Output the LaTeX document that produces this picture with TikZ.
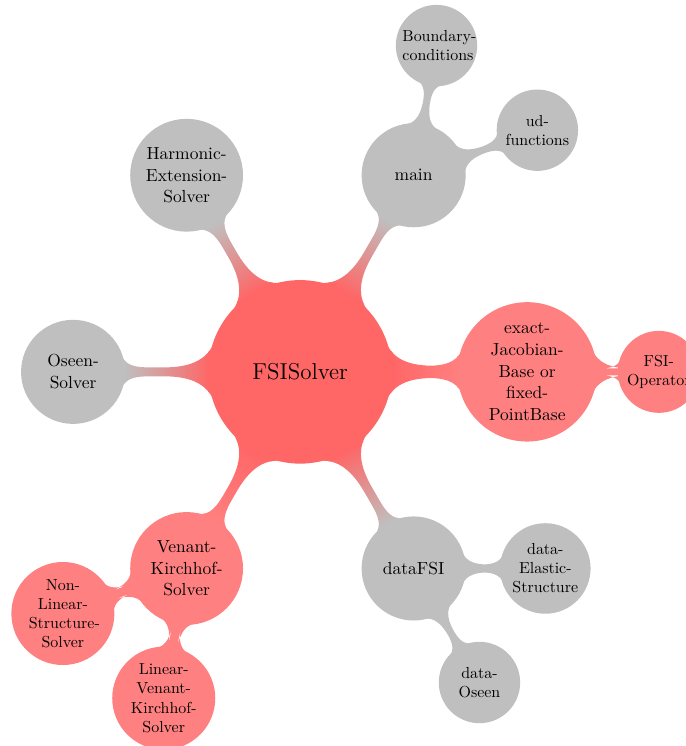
\documentclass[tikz,border=0pt,12pt]{standalone}
\usetikzlibrary{mindmap}

\begin{document}
\begin{tikzpicture}[
  mindmap,
  concept color=red!60,
  every node/.style={concept},
  redbranch/.style={concept color=red!50},
  graybranch/.style={concept color=gray!50}
]

\useasboundingbox (-6.61,-8.24) rectangle (8.48,8.19);

\node[root concept] (fsisolver) {FSISolver}
  % right branch
  child[grow=0, redbranch] { node (exact) {exact-Jacobian-Base or fixed-PointBase}
    child[grow=0] { node (fsiop) {FSI-Operator} }
  }
  child[grow=60, graybranch] { node (main) {main}
    child[grow=80] { node (bc) {Boundary-conditions} }
    child[grow=20] { node (udf) {ud-functions} }
  }
  child[grow=120, graybranch] { node (harmonic) {Harmonic-Extension-Solver} }
  child[grow=180, graybranch] { node (oseen) {Oseen-Solver} }
  child[grow=240, redbranch] { node (venant) {Venant-Kirchhof-Solver}
    child[grow=200] { node (nonlin) {Non-Linear-Structure-Solver} }
    child[grow=260] { node (linvk) {Linear-Venant-Kirchhof-Solver} }
  }
  child[grow=300, graybranch] { node (datafsi) {dataFSI}
    child[grow=0] { node (dataelastic) {data-Elastic-Structure} }
    child[grow=300] { node (dataoseen) {data-Oseen} }
  };

\end{tikzpicture}
\end{document}
